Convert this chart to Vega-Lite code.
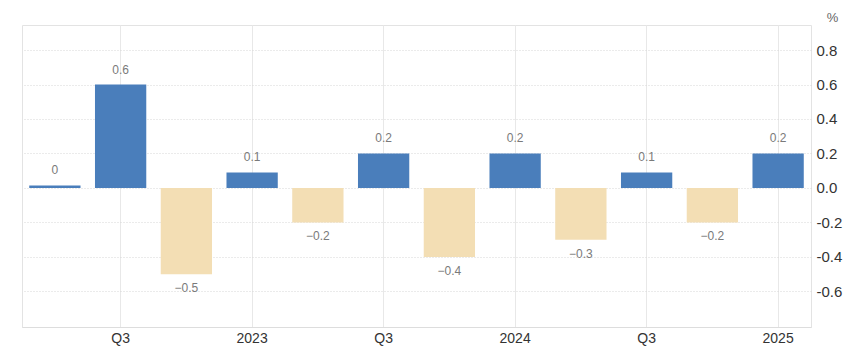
{
  "$schema": "https://vega.github.io/schema/vega-lite/v6.json",
  "width": 789,
  "height": 302,
  "autosize": "none",
  "padding": {"left": 22, "top": 25, "right": 39, "bottom": 25},
  "background": "white",
  "config": {
    "view": {"stroke": "#e3e3e3", "strokeWidth": 1},
    "font": "Liberation Sans"
  },
  "data": {
    "values": [
      {"q": "2022Q2", "v": 0.015},
      {"q": "2022Q3", "v": 0.6},
      {"q": "2022Q4", "v": -0.5},
      {"q": "2023Q1", "v": 0.09},
      {"q": "2023Q2", "v": -0.2},
      {"q": "2023Q3", "v": 0.2},
      {"q": "2023Q4", "v": -0.4},
      {"q": "2024Q1", "v": 0.2},
      {"q": "2024Q2", "v": -0.3},
      {"q": "2024Q3", "v": 0.09},
      {"q": "2024Q4", "v": -0.2},
      {"q": "2025Q1", "v": 0.2}
    ]
  },
  "encoding": {
    "x": {
      "field": "q",
      "type": "ordinal",
      "sort": null,
      "scale": {"paddingInner": 0.22, "paddingOuter": 0.11},
      "axis": {
        "title": null,
        "values": ["2022Q3", "2023Q1", "2023Q3", "2024Q1", "2024Q3", "2025Q1"],
        "labelExpr": "slice(datum.value, 4) == 'Q1' ? slice(datum.value, 0, 4) : slice(datum.value, 4)",
        "labelAngle": 0,
        "labelFontSize": 14,
        "labelColor": "#333333",
        "labelPadding": 4,
        "ticks": false,
        "domain": true,
        "domainColor": "#dddddd",
        "grid": true,
        "gridColor": "#e8e8e8",
        "gridWidth": 1
      }
    },
    "y": {
      "field": "v",
      "type": "quantitative",
      "scale": {"domain": [-0.806, 0.945], "nice": false, "zero": false},
      "axis": {
        "orient": "right",
        "values": [-0.6, -0.4, -0.2, 0, 0.2, 0.4, 0.6, 0.8],
        "labelExpr": "replace(format(datum.value, '.1f'), '−', '-')",
        "labelFontSize": 15,
        "labelColor": "#333333",
        "labelPadding": 5,
        "ticks": false,
        "domain": false,
        "grid": true,
        "gridColor": "#d6d6d6",
        "gridDash": [1, 2],
        "title": "%",
        "titleAngle": 0,
        "titleFontSize": 13,
        "titleFontWeight": "normal",
        "titleColor": "#666666",
        "titleX": 21,
        "titleY": -8,
        "titleAlign": "center",
        "titleBaseline": "middle"
      }
    }
  },
  "layer": [
    {
      "mark": {"type": "bar"},
      "encoding": {
        "color": {
          "condition": {"test": "datum.v < 0", "value": "#f3deb4"},
          "value": "#4a7ebb"
        }
      }
    },
    {
      "transform": [{"filter": "datum.v >= 0"}],
      "mark": {"type": "text", "baseline": "bottom", "dy": -8, "fontSize": 12, "color": "#7a7a7a"},
      "encoding": {"text": {"field": "v", "type": "quantitative", "format": ".1~f"}}
    },
    {
      "transform": [{"filter": "datum.v < 0"}],
      "mark": {"type": "text", "baseline": "top", "dy": 9, "fontSize": 12, "color": "#7a7a7a"},
      "encoding": {"text": {"field": "v", "type": "quantitative", "format": ".1~f"}}
    }
  ]
}
